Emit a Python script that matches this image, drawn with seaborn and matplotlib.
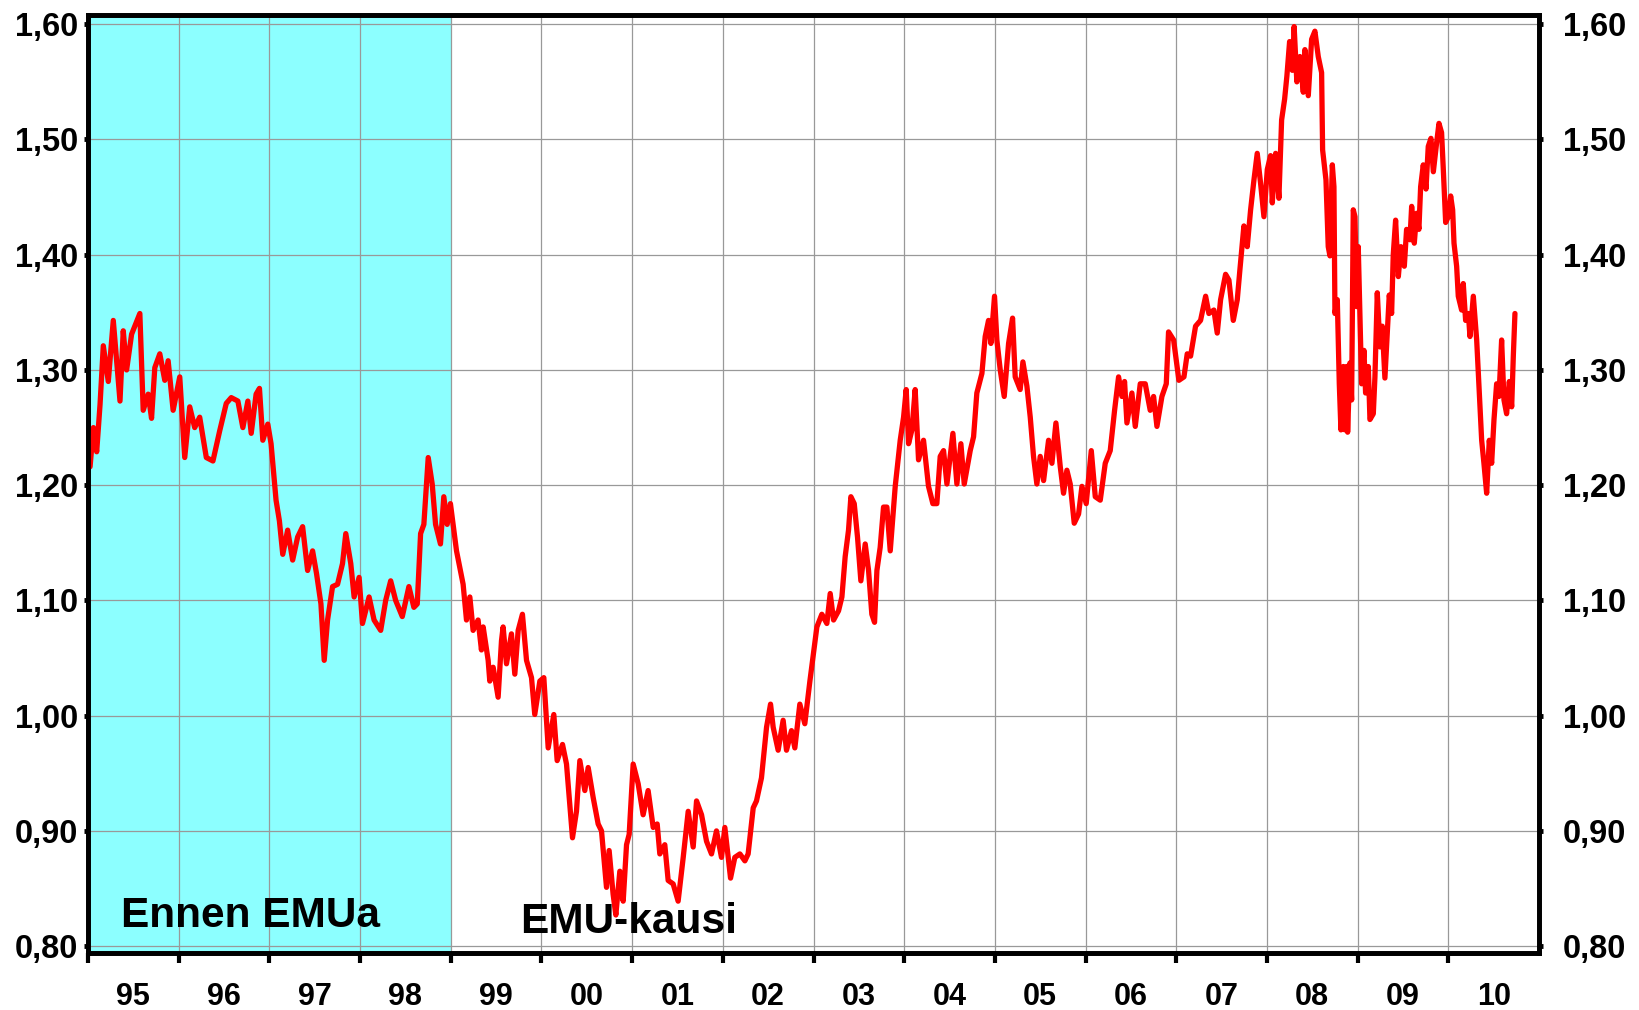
import pandas as pd
import seaborn as sns
import matplotlib.pyplot as plt

# EUR/USD (synthetic euro before 1999)
t = [
    1995.022, 1995.059, 1995.095, 1995.132, 1995.168, 1995.223, 1995.278, 1995.352, 1995.388, 1995.425,
    1995.480, 1995.571, 1995.608, 1995.663, 1995.700, 1995.736, 1995.791, 1995.846, 1995.883, 1995.938,
    1996.011, 1996.066, 1996.121, 1996.176, 1996.231, 1996.304, 1996.377, 1996.451, 1996.524, 1996.579,
    1996.652, 1996.707, 1996.762, 1996.799, 1996.853, 1996.890, 1996.927, 1996.982,
    1997.018, 1997.073, 1997.110, 1997.147, 1997.201, 1997.256, 1997.311, 1997.366, 1997.421, 1997.476,
    1997.520, 1997.568, 1997.604, 1997.641, 1997.696, 1997.751, 1997.806, 1997.842, 1997.897, 1997.934,
    1997.989,
    1998.026, 1998.099, 1998.154, 1998.227, 1998.282, 1998.337, 1998.392, 1998.465, 1998.538, 1998.593,
    1998.630, 1998.667, 1998.703, 1998.751, 1998.795, 1998.832, 1998.886, 1998.923, 1998.960, 1998.996,
    1999.063, 1999.136, 1999.173, 1999.210, 1999.246, 1999.301, 1999.338, 1999.357, 1999.412, 1999.430,
    1999.467, 1999.522, 1999.559, 1999.577, 1999.614, 1999.669, 1999.706, 1999.743, 1999.790, 1999.835,
    1999.890, 1999.926, 1999.982,
    2000.026, 2000.074, 2000.136, 2000.173, 2000.232, 2000.276, 2000.342, 2000.386, 2000.423, 2000.478,
    2000.515, 2000.570, 2000.625, 2000.662, 2000.717, 2000.746, 2000.790, 2000.820, 2000.864, 2000.901,
    2000.938, 2000.967,
    2001.011, 2001.066, 2001.121, 2001.176, 2001.232, 2001.276, 2001.305, 2001.360, 2001.397, 2001.452,
    2001.507, 2001.563, 2001.618, 2001.673, 2001.710, 2001.765, 2001.820, 2001.875, 2001.930, 2001.985,
    2002.022, 2002.085, 2002.132, 2002.188, 2002.243, 2002.279, 2002.335, 2002.371, 2002.426, 2002.482,
    2002.526, 2002.555, 2002.610, 2002.665, 2002.702, 2002.757, 2002.794, 2002.849, 2002.904, 2002.960,
    2003.037, 2003.092, 2003.147, 2003.184, 2003.221, 2003.276, 2003.313, 2003.349, 2003.386, 2003.412,
    2003.449, 2003.485, 2003.522, 2003.570, 2003.607, 2003.643, 2003.673, 2003.699, 2003.735, 2003.772,
    2003.809, 2003.846, 2003.901, 2003.956, 2003.993,
    2004.022, 2004.048, 2004.085, 2004.121, 2004.158, 2004.213, 2004.268, 2004.316, 2004.360, 2004.397,
    2004.434, 2004.471, 2004.537, 2004.581, 2004.625, 2004.662, 2004.728, 2004.765, 2004.801, 2004.857,
    2004.893, 2004.930, 2004.956, 2004.996,
    2005.022, 2005.059, 2005.103, 2005.151, 2005.195, 2005.224, 2005.279, 2005.309, 2005.353, 2005.390,
    2005.426, 2005.463, 2005.500, 2005.537, 2005.592, 2005.629, 2005.673, 2005.721, 2005.757, 2005.794,
    2005.831, 2005.875, 2005.923, 2005.960,
    2006.007, 2006.063, 2006.107, 2006.162, 2006.217, 2006.272, 2006.320, 2006.364, 2006.401, 2006.430,
    2006.456, 2006.511, 2006.548, 2006.603, 2006.658, 2006.713, 2006.750, 2006.787, 2006.842, 2006.890,
    2006.915, 2006.971,
    2007.029, 2007.085, 2007.121, 2007.158, 2007.213, 2007.268, 2007.324, 2007.360, 2007.415, 2007.452,
    2007.489, 2007.544, 2007.581, 2007.629, 2007.673, 2007.702, 2007.746, 2007.783, 2007.820, 2007.857,
    2007.893, 2007.930, 2007.967,
    2008.004, 2008.040, 2008.059, 2008.096, 2008.132, 2008.162, 2008.195, 2008.220, 2008.250, 2008.280,
    2008.300, 2008.330, 2008.364, 2008.401, 2008.419, 2008.456, 2008.493, 2008.529, 2008.566, 2008.603,
    2008.614, 2008.651, 2008.676, 2008.695, 2008.721, 2008.739, 2008.750, 2008.776, 2008.798, 2008.816,
    2008.842, 2008.860, 2008.879, 2008.890, 2008.915, 2008.934, 2008.952, 2008.971, 2008.989,
    2009.007, 2009.026, 2009.044, 2009.070, 2009.088, 2009.118, 2009.136, 2009.173, 2009.191, 2009.217,
    2009.246, 2009.272, 2009.301, 2009.327, 2009.349, 2009.375, 2009.393, 2009.419, 2009.449, 2009.478,
    2009.515, 2009.540, 2009.577, 2009.596, 2009.625, 2009.651, 2009.676, 2009.695, 2009.724, 2009.754,
    2009.779, 2009.809, 2009.835, 2009.871, 2009.897, 2009.926, 2009.945, 2009.971,
    2010.000, 2010.026, 2010.048, 2010.063, 2010.092, 2010.110, 2010.147, 2010.165, 2010.191, 2010.221,
    2010.239, 2010.276, 2010.313, 2010.342, 2010.368, 2010.393, 2010.423, 2010.452, 2010.478, 2010.504,
    2010.533, 2010.559, 2010.588, 2010.614, 2010.643, 2010.673, 2010.699, 2010.717, 2010.735,
]
eur_usd = [
    1.216, 1.250, 1.229, 1.270, 1.321, 1.290, 1.343, 1.273, 1.334, 1.300,
    1.331, 1.349, 1.265, 1.279, 1.258, 1.302, 1.314, 1.291, 1.308, 1.265,
    1.294, 1.224, 1.268, 1.250, 1.259, 1.224, 1.221, 1.247, 1.271, 1.276,
    1.273, 1.250, 1.273, 1.245, 1.279, 1.284, 1.239, 1.253,
    1.236, 1.187, 1.169, 1.140, 1.161, 1.135, 1.155, 1.164, 1.126, 1.143,
    1.123, 1.097, 1.048, 1.083, 1.112, 1.114, 1.132, 1.158, 1.132, 1.103,
    1.120,
    1.080, 1.103, 1.083, 1.074, 1.100, 1.117, 1.100, 1.086, 1.112, 1.094,
    1.097, 1.158, 1.166, 1.224, 1.201, 1.166, 1.149, 1.190, 1.166, 1.184,
    1.143, 1.114, 1.083, 1.103, 1.074, 1.083, 1.057, 1.077, 1.048, 1.030,
    1.042, 1.016, 1.065, 1.077, 1.045, 1.071, 1.036, 1.074, 1.088, 1.048,
    1.033, 1.001, 1.030,
    1.033, 0.972, 1.001, 0.961, 0.975, 0.958, 0.894, 0.917, 0.961, 0.935,
    0.955, 0.929, 0.906, 0.900, 0.851, 0.883, 0.845, 0.827, 0.865, 0.839,
    0.888, 0.897,
    0.958, 0.941, 0.914, 0.935, 0.903, 0.906, 0.880, 0.888, 0.857, 0.854,
    0.839, 0.877, 0.917, 0.886, 0.926, 0.914, 0.891, 0.880, 0.900, 0.877,
    0.903, 0.859, 0.877, 0.880, 0.874, 0.880, 0.920, 0.926, 0.946, 0.990,
    1.010, 0.990, 0.970, 0.996, 0.970, 0.987, 0.972, 1.010, 0.993, 1.030,
    1.077, 1.088, 1.080, 1.106, 1.083, 1.091, 1.103, 1.138, 1.161, 1.190,
    1.184, 1.155, 1.117, 1.149, 1.126, 1.088, 1.081, 1.126, 1.146, 1.181,
    1.181, 1.143, 1.199, 1.239, 1.259,
    1.283, 1.236, 1.248, 1.283, 1.222, 1.239, 1.199, 1.184, 1.184, 1.225,
    1.230, 1.201, 1.245, 1.201, 1.236, 1.201, 1.230, 1.242, 1.280, 1.297,
    1.329, 1.343, 1.323, 1.364,
    1.326, 1.300, 1.277, 1.323, 1.345, 1.294, 1.283, 1.307, 1.286, 1.259,
    1.225, 1.201, 1.225, 1.204, 1.239, 1.219, 1.254, 1.216, 1.193, 1.213,
    1.201, 1.167, 1.175, 1.199,
    1.184, 1.230, 1.190, 1.187, 1.219, 1.230, 1.265, 1.294, 1.277, 1.290,
    1.254, 1.280, 1.251, 1.288, 1.288, 1.265, 1.277, 1.251, 1.277, 1.288,
    1.333, 1.326,
    1.291, 1.294, 1.314, 1.312, 1.338, 1.343, 1.364, 1.349, 1.352, 1.332,
    1.361, 1.383, 1.378, 1.343, 1.361, 1.387, 1.425, 1.407, 1.439, 1.465,
    1.488, 1.462, 1.433,
    1.474, 1.486, 1.445, 1.488, 1.449, 1.517, 1.535, 1.555, 1.585, 1.560,
    1.598, 1.550, 1.572, 1.541, 1.578, 1.538, 1.587, 1.594, 1.572, 1.558,
    1.491, 1.465, 1.407, 1.399, 1.478, 1.459, 1.349, 1.361, 1.288, 1.248,
    1.303, 1.248, 1.303, 1.246, 1.306, 1.274, 1.439, 1.433, 1.355,
    1.407, 1.346, 1.288, 1.317, 1.280, 1.303, 1.257, 1.262, 1.294, 1.367,
    1.320, 1.338, 1.293, 1.332, 1.365, 1.349, 1.400, 1.430, 1.381, 1.407,
    1.390, 1.422, 1.413, 1.442, 1.410, 1.436, 1.422, 1.459, 1.478, 1.457,
    1.494, 1.501, 1.472, 1.497, 1.514, 1.506, 1.474, 1.428,
    1.433, 1.451, 1.439, 1.410, 1.390, 1.364, 1.352, 1.375, 1.343, 1.349,
    1.329, 1.364, 1.326, 1.280, 1.239, 1.219, 1.193, 1.239, 1.219, 1.257,
    1.288, 1.277, 1.326, 1.274, 1.262, 1.290, 1.268, 1.312, 1.349,
]

years = list(range(1995, 2011))
year_labels = ['95', '96', '97', '98', '99', '00', '01', '02', '03', '04', '05', '06', '07', '08', '09', '10']
y_ticks = [0.80, 0.90, 1.00, 1.10, 1.20, 1.30, 1.40, 1.50, 1.60]
y_labels = ['0,80', '0,90', '1,00', '1,10', '1,20', '1,30', '1,40', '1,50', '1,60']
emu_start = 1999
period_labels = ['Ennen EMUa', 'EMU-kausi']

df = pd.DataFrame({'t': t, 'usd': eur_usd})

sns.set_style('white')
plt.rcParams['font.family'] = ['Liberation Sans', 'DejaVu Sans']
plt.rcParams['font.weight'] = 'bold'
plt.rcParams['text.color'] = 'black'
plt.rcParams['xtick.color'] = 'black'
plt.rcParams['ytick.color'] = 'black'

fig = plt.figure(figsize=(16.4, 10.1), dpi=100)
ax = fig.add_axes([0.0537, 0.0564, 0.8847, 0.9287])

# shaded pre-EMU period
ax.axvspan(1995, emu_start, color='#8CFFFF', lw=0, zorder=0)

sns.lineplot(data=df, x='t', y='usd', ax=ax, color='#FF0000', lw=3.8,
             estimator=None, sort=False, zorder=3)

ax.set_xlim(1995, 2011)
ax.set_ylim(0.794, 1.608)
ax.set_xlabel('')
ax.set_ylabel('')

# year boundaries as ticks, labels in the middle of each year
ax.set_xticks(years, labels=[''] * len(years))
ax.set_xticks([y + 0.5 for y in years], labels=year_labels, minor=True)
ax.tick_params(axis='x', which='major', direction='out', length=7, width=3, color='black', bottom=True)
ax.tick_params(axis='x', which='minor', length=0, pad=21, labelsize=22, labelcolor='black')

ax.set_yticks(y_ticks, labels=y_labels)
ax.tick_params(axis='y', direction='out', length=3, width=3.5, pad=4, labelsize=23.5,
               left=True, labelcolor='black')

ax.grid(True, which='major', color='#999999', lw=0.9)
ax.set_axisbelow(True)

for s in ax.spines.values():
    s.set_linewidth(3.4)
    s.set_color('black')

# right-hand scale
ax2 = ax.twinx()
ax2.set_ylim(ax.get_ylim())
ax2.set_yticks(y_ticks, labels=y_labels)
ax2.tick_params(axis='y', direction='out', length=3, width=3.5, pad=14, labelsize=23.5,
                right=True, labelcolor='black')
ax2.grid(False)
for s in ax2.spines.values():
    s.set_linewidth(3.4)
    s.set_color('black')

ax.text(1995.36, 0.826, period_labels[0], fontsize=30.5, fontweight='bold', va='center', ha='left',
        color='black', zorder=5)
ax.text(1999.76, 0.821, period_labels[1], fontsize=30.5, fontweight='bold', va='center', ha='left',
        color='black', zorder=5)

fig.savefig('out.png', dpi=100)
